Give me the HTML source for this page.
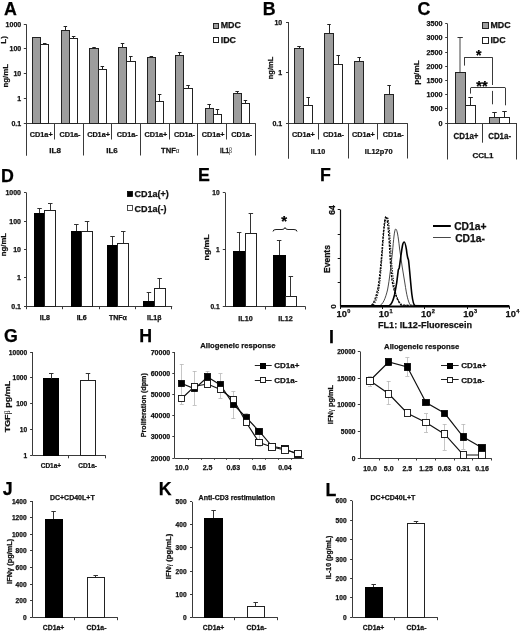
<!DOCTYPE html>
<html><head><meta charset="utf-8"><title>Figure</title>
<style>
html,body{margin:0;padding:0;background:#fff;}
body{width:520px;height:632px;overflow:hidden;font-family:"Liberation Sans",sans-serif;}
svg{display:block;filter:grayscale(1);}
</style></head>
<body>
<svg width="520" height="632" viewBox="0 0 520 632" shape-rendering="geometricPrecision">
<rect width="520" height="632" fill="#fff"/>
<text x="3.97" y="15.4" font-family="Liberation Sans" font-size="17.8" font-weight="bold" text-anchor="start" fill="#000" stroke="#000" stroke-width="0.25">A</text>
<line x1="26.5" y1="24.2" x2="26.5" y2="155.5" stroke="#3a3a3a" stroke-width="1"/>
<line x1="26" y1="123.5" x2="255.5" y2="123.5" stroke="#3a3a3a" stroke-width="1"/>
<line x1="23.8" y1="24.5" x2="26" y2="24.5" stroke="#3a3a3a" stroke-width="1"/>
<text x="21.2" y="26.7" font-family="Liberation Sans" font-size="7" font-weight="bold" text-anchor="end" fill="#111" stroke="#111" stroke-width="0.25">1000</text>
<line x1="23.8" y1="48.5" x2="26" y2="48.5" stroke="#3a3a3a" stroke-width="1"/>
<text x="21.2" y="51.45" font-family="Liberation Sans" font-size="7" font-weight="bold" text-anchor="end" fill="#111" stroke="#111" stroke-width="0.25">100</text>
<line x1="23.8" y1="73.5" x2="26" y2="73.5" stroke="#3a3a3a" stroke-width="1"/>
<text x="21.2" y="76.2" font-family="Liberation Sans" font-size="7" font-weight="bold" text-anchor="end" fill="#111" stroke="#111" stroke-width="0.25">10</text>
<line x1="23.8" y1="98.5" x2="26" y2="98.5" stroke="#3a3a3a" stroke-width="1"/>
<text x="21.2" y="100.95" font-family="Liberation Sans" font-size="7" font-weight="bold" text-anchor="end" fill="#111" stroke="#111" stroke-width="0.25">1</text>
<line x1="23.8" y1="123.5" x2="26" y2="123.5" stroke="#3a3a3a" stroke-width="1"/>
<text x="21.2" y="125.7" font-family="Liberation Sans" font-size="7" font-weight="bold" text-anchor="end" fill="#111" stroke="#111" stroke-width="0.25">0.1</text>
<text x="7.9" y="75.8" font-family="Liberation Sans" font-size="8" font-weight="bold" text-anchor="middle" fill="#111" stroke="#111" stroke-width="0.25" transform="rotate(-90 7.9 75.8)" textLength="23.6" lengthAdjust="spacingAndGlyphs">ng/mL</text>
<text x="5.6" y="39.9" font-family="Liberation Sans" font-size="8" font-weight="bold" text-anchor="middle" fill="#111" stroke="#111" stroke-width="0.25" transform="rotate(-90 5.6 39.9)">L)</text>
<line x1="36.5" y1="37.5" x2="36.5" y2="37" stroke="#222" stroke-width="1"/>
<line x1="34.7" y1="37.5" x2="38.2" y2="37.5" stroke="#222" stroke-width="1"/>
<line x1="44.5" y1="44.5" x2="44.5" y2="43" stroke="#222" stroke-width="1"/>
<line x1="43" y1="43.5" x2="46.5" y2="43.5" stroke="#222" stroke-width="1"/>
<rect x="32.5" y="37.5" width="8" height="86" fill="#9d9d9d" stroke="#222" stroke-width="1"/>
<rect x="40.5" y="44.5" width="8" height="79" fill="#fff" stroke="#222" stroke-width="1"/>
<line x1="65.5" y1="30.5" x2="65.5" y2="26.7" stroke="#222" stroke-width="1"/>
<line x1="63.6" y1="26.5" x2="67.1" y2="26.5" stroke="#222" stroke-width="1"/>
<line x1="73.5" y1="38.7" x2="73.5" y2="36.7" stroke="#222" stroke-width="1"/>
<line x1="71.9" y1="36.5" x2="75.4" y2="36.5" stroke="#222" stroke-width="1"/>
<rect x="61.5" y="30.5" width="8" height="93" fill="#9d9d9d" stroke="#222" stroke-width="1"/>
<rect x="69.5" y="38.5" width="8" height="85" fill="#fff" stroke="#222" stroke-width="1"/>
<line x1="94.5" y1="48.2" x2="94.5" y2="47.8" stroke="#222" stroke-width="1"/>
<line x1="92.3" y1="47.5" x2="95.8" y2="47.5" stroke="#222" stroke-width="1"/>
<line x1="102.5" y1="69.2" x2="102.5" y2="66" stroke="#222" stroke-width="1"/>
<line x1="100.6" y1="66.5" x2="104.1" y2="66.5" stroke="#222" stroke-width="1"/>
<rect x="89.5" y="48.5" width="9" height="75" fill="#9d9d9d" stroke="#222" stroke-width="1"/>
<rect x="98.5" y="69.5" width="8" height="54" fill="#fff" stroke="#222" stroke-width="1"/>
<line x1="122.5" y1="47.8" x2="122.5" y2="43.5" stroke="#222" stroke-width="1"/>
<line x1="120.8" y1="43.5" x2="124.3" y2="43.5" stroke="#222" stroke-width="1"/>
<line x1="130.5" y1="61.7" x2="130.5" y2="56.8" stroke="#222" stroke-width="1"/>
<line x1="129.1" y1="56.5" x2="132.6" y2="56.5" stroke="#222" stroke-width="1"/>
<rect x="118.5" y="47.5" width="8" height="76" fill="#9d9d9d" stroke="#222" stroke-width="1"/>
<rect x="126.5" y="61.5" width="9" height="62" fill="#fff" stroke="#222" stroke-width="1"/>
<line x1="151.5" y1="57.2" x2="151.5" y2="56.8" stroke="#222" stroke-width="1"/>
<line x1="149.6" y1="56.5" x2="153.1" y2="56.5" stroke="#222" stroke-width="1"/>
<line x1="159.5" y1="101" x2="159.5" y2="94.9" stroke="#222" stroke-width="1"/>
<line x1="157.9" y1="94.5" x2="161.4" y2="94.5" stroke="#222" stroke-width="1"/>
<rect x="147.5" y="57.5" width="8" height="66" fill="#9d9d9d" stroke="#222" stroke-width="1"/>
<rect x="155.5" y="101.5" width="8" height="22" fill="#fff" stroke="#222" stroke-width="1"/>
<line x1="179.5" y1="55.1" x2="179.5" y2="52.8" stroke="#222" stroke-width="1"/>
<line x1="178" y1="52.5" x2="181.5" y2="52.5" stroke="#222" stroke-width="1"/>
<line x1="188.5" y1="88.8" x2="188.5" y2="85.7" stroke="#222" stroke-width="1"/>
<line x1="186.3" y1="85.5" x2="189.8" y2="85.5" stroke="#222" stroke-width="1"/>
<rect x="175.5" y="55.5" width="8" height="68" fill="#9d9d9d" stroke="#222" stroke-width="1"/>
<rect x="183.5" y="88.5" width="9" height="35" fill="#fff" stroke="#222" stroke-width="1"/>
<line x1="209.5" y1="108.25" x2="209.5" y2="104.25" stroke="#222" stroke-width="1"/>
<line x1="207.4" y1="104.5" x2="210.9" y2="104.5" stroke="#222" stroke-width="1"/>
<line x1="217.5" y1="114.5" x2="217.5" y2="109.25" stroke="#222" stroke-width="1"/>
<line x1="215.7" y1="109.5" x2="219.2" y2="109.5" stroke="#222" stroke-width="1"/>
<rect x="205.5" y="108.5" width="8" height="15" fill="#9d9d9d" stroke="#222" stroke-width="1"/>
<rect x="213.5" y="114.5" width="8" height="9" fill="#fff" stroke="#222" stroke-width="1"/>
<line x1="237.5" y1="93.75" x2="237.5" y2="91.75" stroke="#222" stroke-width="1"/>
<line x1="235.4" y1="91.5" x2="238.9" y2="91.5" stroke="#222" stroke-width="1"/>
<line x1="245.5" y1="103.5" x2="245.5" y2="100.75" stroke="#222" stroke-width="1"/>
<line x1="243.7" y1="100.5" x2="247.2" y2="100.5" stroke="#222" stroke-width="1"/>
<rect x="233.5" y="93.5" width="8" height="30" fill="#9d9d9d" stroke="#222" stroke-width="1"/>
<rect x="241.5" y="103.5" width="8" height="20" fill="#fff" stroke="#222" stroke-width="1"/>
<line x1="26.5" y1="123.2" x2="26.5" y2="155.5" stroke="#3a3a3a" stroke-width="1"/>
<line x1="54.5" y1="123.2" x2="54.5" y2="139.5" stroke="#3a3a3a" stroke-width="1"/>
<line x1="83.5" y1="123.2" x2="83.5" y2="155.5" stroke="#3a3a3a" stroke-width="1"/>
<line x1="111.5" y1="123.2" x2="111.5" y2="139.5" stroke="#3a3a3a" stroke-width="1"/>
<line x1="140.5" y1="123.2" x2="140.5" y2="155.5" stroke="#3a3a3a" stroke-width="1"/>
<line x1="169.5" y1="123.2" x2="169.5" y2="139.5" stroke="#3a3a3a" stroke-width="1"/>
<line x1="197.5" y1="123.2" x2="197.5" y2="155.5" stroke="#3a3a3a" stroke-width="1"/>
<line x1="226.5" y1="123.2" x2="226.5" y2="139.5" stroke="#3a3a3a" stroke-width="1"/>
<line x1="255.5" y1="123.2" x2="255.5" y2="155.5" stroke="#3a3a3a" stroke-width="1"/>
<text x="0" y="0" font-family="Liberation Sans" font-size="8" font-weight="bold" text-anchor="middle" fill="#111" stroke="#111" stroke-width="0.25" transform="translate(41.23 137.2) scale(0.91 1)">CD1a+</text>
<text x="0" y="0" font-family="Liberation Sans" font-size="8" font-weight="bold" text-anchor="middle" fill="#111" stroke="#111" stroke-width="0.25" transform="translate(69.88 137.2) scale(0.91 1)">CD1a-</text>
<text x="0" y="0" font-family="Liberation Sans" font-size="8" font-weight="bold" text-anchor="middle" fill="#111" stroke="#111" stroke-width="0.25" transform="translate(98.53 137.2) scale(0.91 1)">CD1a+</text>
<text x="0" y="0" font-family="Liberation Sans" font-size="8" font-weight="bold" text-anchor="middle" fill="#111" stroke="#111" stroke-width="0.25" transform="translate(127.17 137.2) scale(0.91 1)">CD1a-</text>
<text x="0" y="0" font-family="Liberation Sans" font-size="8" font-weight="bold" text-anchor="middle" fill="#111" stroke="#111" stroke-width="0.25" transform="translate(155.82 137.2) scale(0.91 1)">CD1a+</text>
<text x="0" y="0" font-family="Liberation Sans" font-size="8" font-weight="bold" text-anchor="middle" fill="#111" stroke="#111" stroke-width="0.25" transform="translate(184.47 137.2) scale(0.91 1)">CD1a-</text>
<text x="0" y="0" font-family="Liberation Sans" font-size="8" font-weight="bold" text-anchor="middle" fill="#111" stroke="#111" stroke-width="0.25" transform="translate(213.12 137.2) scale(0.91 1)">CD1a+</text>
<text x="0" y="0" font-family="Liberation Sans" font-size="8" font-weight="bold" text-anchor="middle" fill="#111" stroke="#111" stroke-width="0.25" transform="translate(241.78 137.2) scale(0.91 1)">CD1a-</text>
<text x="0" y="0" font-family="Liberation Sans" font-size="8" font-weight="bold" text-anchor="middle" fill="#111" stroke="#111" stroke-width="0.25" transform="translate(55.15 152.5) scale(1 1)">IL8</text>
<text x="0" y="0" font-family="Liberation Sans" font-size="8" font-weight="bold" text-anchor="middle" fill="#111" stroke="#111" stroke-width="0.25" transform="translate(111.95 152.5) scale(1 1)">IL6</text>
<text x="0" y="0" font-family="Liberation Sans" font-size="8" font-weight="bold" text-anchor="middle" fill="#111" stroke="#111" stroke-width="0.25" transform="translate(170.25 152.5) scale(0.95 1)">TNF<tspan font-family="Liberation Serif" font-weight="normal" stroke-width="0" font-size="7.2">α</tspan></text>
<text x="0" y="0" font-family="Liberation Sans" font-size="8" font-weight="bold" text-anchor="middle" fill="#111" stroke="#111" stroke-width="0.25" transform="translate(225.95 152.5) scale(0.8 1)">IL1<tspan font-family="Liberation Serif" font-weight="normal" stroke-width="0" font-size="7.2">β</tspan></text>
<rect x="213.5" y="23.5" width="5" height="5" fill="#9d9d9d" stroke="#222" stroke-width="1"/>
<text x="220.7" y="28.3" font-family="Liberation Sans" font-size="8.9" font-weight="bold" text-anchor="start" fill="#111" stroke="#111" stroke-width="0.25">MDC</text>
<rect x="213.5" y="37.5" width="5" height="5" fill="#fff" stroke="#222" stroke-width="1"/>
<text x="220.7" y="43.1" font-family="Liberation Sans" font-size="8.9" font-weight="bold" text-anchor="start" fill="#111" stroke="#111" stroke-width="0.25">IDC</text>
<text x="262.85" y="14.7" font-family="Liberation Sans" font-size="17.8" font-weight="bold" text-anchor="start" fill="#000" stroke="#000" stroke-width="0.25">B</text>
<line x1="288.5" y1="22" x2="288.5" y2="158.5" stroke="#3a3a3a" stroke-width="1"/>
<line x1="288.2" y1="123.5" x2="407.7" y2="123.5" stroke="#3a3a3a" stroke-width="1"/>
<line x1="286" y1="22.5" x2="288.2" y2="22.5" stroke="#3a3a3a" stroke-width="1"/>
<text x="282.2" y="24.5" font-family="Liberation Sans" font-size="7" font-weight="bold" text-anchor="end" fill="#111" stroke="#111" stroke-width="0.25">10</text>
<line x1="286" y1="72.5" x2="288.2" y2="72.5" stroke="#3a3a3a" stroke-width="1"/>
<text x="282.2" y="75.1" font-family="Liberation Sans" font-size="7" font-weight="bold" text-anchor="end" fill="#111" stroke="#111" stroke-width="0.25">1</text>
<line x1="286" y1="123.5" x2="288.2" y2="123.5" stroke="#3a3a3a" stroke-width="1"/>
<text x="282.2" y="125.7" font-family="Liberation Sans" font-size="7" font-weight="bold" text-anchor="end" fill="#111" stroke="#111" stroke-width="0.25">0.1</text>
<text x="272.8" y="68" font-family="Liberation Sans" font-size="7.5" font-weight="bold" text-anchor="middle" fill="#111" stroke="#111" stroke-width="0.25" transform="rotate(-90 272.8 68)">ng/mL</text>
<line x1="299.5" y1="48.25" x2="299.5" y2="46.25" stroke="#222" stroke-width="1"/>
<line x1="297.25" y1="46.5" x2="300.75" y2="46.5" stroke="#222" stroke-width="1"/>
<line x1="308.5" y1="105.75" x2="308.5" y2="97.5" stroke="#222" stroke-width="1"/>
<line x1="306.45" y1="97.5" x2="309.95" y2="97.5" stroke="#222" stroke-width="1"/>
<rect x="294.5" y="48.5" width="9" height="75" fill="#9d9d9d" stroke="#222" stroke-width="1"/>
<rect x="303.5" y="105.5" width="9" height="18" fill="#fff" stroke="#222" stroke-width="1"/>
<line x1="329.5" y1="33" x2="329.5" y2="24.25" stroke="#222" stroke-width="1"/>
<line x1="327.25" y1="24.5" x2="330.75" y2="24.5" stroke="#222" stroke-width="1"/>
<line x1="338.5" y1="64.25" x2="338.5" y2="55.5" stroke="#222" stroke-width="1"/>
<line x1="336.45" y1="55.5" x2="339.95" y2="55.5" stroke="#222" stroke-width="1"/>
<rect x="324.5" y="33.5" width="9" height="90" fill="#9d9d9d" stroke="#222" stroke-width="1"/>
<rect x="333.5" y="64.5" width="9" height="59" fill="#fff" stroke="#222" stroke-width="1"/>
<line x1="359.5" y1="61.25" x2="359.5" y2="57.5" stroke="#222" stroke-width="1"/>
<line x1="357.45" y1="57.5" x2="360.95" y2="57.5" stroke="#222" stroke-width="1"/>
<rect x="354.5" y="61.5" width="9" height="62" fill="#9d9d9d" stroke="#222" stroke-width="1"/>
<line x1="389.5" y1="94.2" x2="389.5" y2="85.4" stroke="#222" stroke-width="1"/>
<line x1="387.35" y1="85.5" x2="390.85" y2="85.5" stroke="#222" stroke-width="1"/>
<rect x="384.5" y="94.5" width="9" height="29" fill="#9d9d9d" stroke="#222" stroke-width="1"/>
<line x1="288.5" y1="123.25" x2="288.5" y2="158.5" stroke="#3a3a3a" stroke-width="1"/>
<line x1="318.5" y1="123.25" x2="318.5" y2="139.5" stroke="#3a3a3a" stroke-width="1"/>
<line x1="348.5" y1="123.25" x2="348.5" y2="158.5" stroke="#3a3a3a" stroke-width="1"/>
<line x1="377.5" y1="123.25" x2="377.5" y2="139.5" stroke="#3a3a3a" stroke-width="1"/>
<line x1="407.5" y1="123.25" x2="407.5" y2="158.5" stroke="#3a3a3a" stroke-width="1"/>
<text x="0" y="0" font-family="Liberation Sans" font-size="8" font-weight="bold" text-anchor="middle" fill="#111" stroke="#111" stroke-width="0.25" transform="translate(303.46 137.2) scale(0.91 1)">CD1a+</text>
<text x="0" y="0" font-family="Liberation Sans" font-size="8" font-weight="bold" text-anchor="middle" fill="#111" stroke="#111" stroke-width="0.25" transform="translate(333.39 137.2) scale(0.91 1)">CD1a-</text>
<text x="0" y="0" font-family="Liberation Sans" font-size="8" font-weight="bold" text-anchor="middle" fill="#111" stroke="#111" stroke-width="0.25" transform="translate(363.31 137.2) scale(0.91 1)">CD1a+</text>
<text x="0" y="0" font-family="Liberation Sans" font-size="8" font-weight="bold" text-anchor="middle" fill="#111" stroke="#111" stroke-width="0.25" transform="translate(393.24 137.2) scale(0.91 1)">CD1a-</text>
<text x="0" y="0" font-family="Liberation Sans" font-size="8" font-weight="bold" text-anchor="middle" fill="#111" stroke="#111" stroke-width="0.25" transform="translate(317.93 154.3) scale(0.9 1)">IL10</text>
<text x="0" y="0" font-family="Liberation Sans" font-size="8" font-weight="bold" text-anchor="middle" fill="#111" stroke="#111" stroke-width="0.25" transform="translate(378.67 154.3) scale(0.93 1)">IL12p70</text>
<text x="417.5" y="15.4" font-family="Liberation Sans" font-size="17.8" font-weight="bold" text-anchor="start" fill="#000" stroke="#000" stroke-width="0.25">C</text>
<line x1="447.5" y1="23.6" x2="447.5" y2="159.5" stroke="#3a3a3a" stroke-width="1"/>
<line x1="447.4" y1="123.5" x2="517" y2="123.5" stroke="#3a3a3a" stroke-width="1"/>
<line x1="445.2" y1="123.5" x2="447.4" y2="123.5" stroke="#3a3a3a" stroke-width="1"/>
<text x="442.5" y="125.6" font-family="Liberation Sans" font-size="7.2" font-weight="bold" text-anchor="end" fill="#111" stroke="#111" stroke-width="0.25">0</text>
<line x1="445.2" y1="108.5" x2="447.4" y2="108.5" stroke="#3a3a3a" stroke-width="1"/>
<text x="442.5" y="111.4" font-family="Liberation Sans" font-size="7.2" font-weight="bold" text-anchor="end" fill="#111" stroke="#111" stroke-width="0.25">500</text>
<line x1="445.2" y1="94.5" x2="447.4" y2="94.5" stroke="#3a3a3a" stroke-width="1"/>
<text x="442.5" y="97.2" font-family="Liberation Sans" font-size="7.2" font-weight="bold" text-anchor="end" fill="#111" stroke="#111" stroke-width="0.25">1000</text>
<line x1="445.2" y1="80.5" x2="447.4" y2="80.5" stroke="#3a3a3a" stroke-width="1"/>
<text x="442.5" y="83" font-family="Liberation Sans" font-size="7.2" font-weight="bold" text-anchor="end" fill="#111" stroke="#111" stroke-width="0.25">1500</text>
<line x1="445.2" y1="66.5" x2="447.4" y2="66.5" stroke="#3a3a3a" stroke-width="1"/>
<text x="442.5" y="68.8" font-family="Liberation Sans" font-size="7.2" font-weight="bold" text-anchor="end" fill="#111" stroke="#111" stroke-width="0.25">2000</text>
<line x1="445.2" y1="52.5" x2="447.4" y2="52.5" stroke="#3a3a3a" stroke-width="1"/>
<text x="442.5" y="54.6" font-family="Liberation Sans" font-size="7.2" font-weight="bold" text-anchor="end" fill="#111" stroke="#111" stroke-width="0.25">2500</text>
<line x1="445.2" y1="37.5" x2="447.4" y2="37.5" stroke="#3a3a3a" stroke-width="1"/>
<text x="442.5" y="40.4" font-family="Liberation Sans" font-size="7.2" font-weight="bold" text-anchor="end" fill="#111" stroke="#111" stroke-width="0.25">3000</text>
<line x1="445.2" y1="23.5" x2="447.4" y2="23.5" stroke="#3a3a3a" stroke-width="1"/>
<text x="442.5" y="26.2" font-family="Liberation Sans" font-size="7.2" font-weight="bold" text-anchor="end" fill="#111" stroke="#111" stroke-width="0.25">3500</text>
<text x="418.6" y="72.6" font-family="Liberation Sans" font-size="8" font-weight="bold" text-anchor="middle" fill="#111" stroke="#111" stroke-width="0.25" transform="rotate(-90 418.6 72.6)" textLength="24.5" lengthAdjust="spacingAndGlyphs">pg/mL</text>
<line x1="460" y1="37.3" x2="460" y2="72" stroke="#8a8a8a" stroke-width="1.6"/>
<line x1="457.5" y1="37.5" x2="462.8" y2="37.5" stroke="#333" stroke-width="1"/>
<rect x="455.5" y="72.5" width="10" height="51" fill="#9d9d9d" stroke="#222" stroke-width="1"/>
<line x1="470.5" y1="105.8" x2="470.5" y2="97.6" stroke="#222" stroke-width="1"/>
<line x1="468.35" y1="97.5" x2="472.85" y2="97.5" stroke="#222" stroke-width="1"/>
<rect x="465.5" y="105.5" width="10" height="18" fill="#fff" stroke="#222" stroke-width="1"/>
<line x1="494.5" y1="117.5" x2="494.5" y2="112.7" stroke="#222" stroke-width="1"/>
<line x1="492.25" y1="112.5" x2="496.75" y2="112.5" stroke="#222" stroke-width="1"/>
<rect x="489.5" y="117.5" width="10" height="6" fill="#9d9d9d" stroke="#222" stroke-width="1"/>
<line x1="504.5" y1="117" x2="504.5" y2="111.6" stroke="#222" stroke-width="1"/>
<line x1="502.25" y1="111.5" x2="506.75" y2="111.5" stroke="#222" stroke-width="1"/>
<rect x="499.5" y="117.5" width="10" height="6" fill="#fff" stroke="#222" stroke-width="1"/>
<line x1="482.5" y1="123" x2="482.5" y2="142.7" stroke="#3a3a3a" stroke-width="1"/>
<line x1="516.5" y1="123" x2="516.5" y2="159.5" stroke="#3a3a3a" stroke-width="1"/>
<text x="0" y="0" font-family="Liberation Sans" font-size="8.6" font-weight="bold" text-anchor="middle" fill="#111" stroke="#111" stroke-width="0.25" transform="translate(466 139.2) scale(0.92 1)">CD1a+</text>
<text x="0" y="0" font-family="Liberation Sans" font-size="8.6" font-weight="bold" text-anchor="middle" fill="#111" stroke="#111" stroke-width="0.25" transform="translate(499.6 139.2) scale(0.92 1)">CD1a-</text>
<text x="483" y="157.7" font-family="Liberation Sans" font-size="8" font-weight="bold" text-anchor="middle" fill="#111" stroke="#111" stroke-width="0.25">CCL1</text>
<line x1="464.1" y1="57.5" x2="492.8" y2="57.5" stroke="#3a3a3a" stroke-width="1"/>
<line x1="464.5" y1="57.8" x2="464.5" y2="65.6" stroke="#3a3a3a" stroke-width="1"/>
<line x1="492.5" y1="57.8" x2="492.5" y2="85" stroke="#3a3a3a" stroke-width="1"/>
<line x1="492.5" y1="90.9" x2="492.5" y2="104.3" stroke="#3a3a3a" stroke-width="1"/>
<text x="475.9" y="60.4" font-family="Liberation Sans" font-size="14" font-weight="bold" text-anchor="start" fill="#000" stroke="#000" stroke-width="0.25">*</text>
<line x1="470.9" y1="87.5" x2="505.2" y2="87.5" stroke="#3a3a3a" stroke-width="1"/>
<line x1="470.5" y1="87.8" x2="470.5" y2="93.6" stroke="#3a3a3a" stroke-width="1"/>
<line x1="505.5" y1="87.8" x2="505.5" y2="105.3" stroke="#3a3a3a" stroke-width="1"/>
<text x="476.3" y="91.3" font-family="Liberation Sans" font-size="14.5" font-weight="bold" text-anchor="start" fill="#000" stroke="#000" stroke-width="0.25">**</text>
<rect x="482.5" y="22.5" width="6" height="6" fill="#9d9d9d" stroke="#222" stroke-width="1"/>
<text x="490.4" y="28" font-family="Liberation Sans" font-size="8.9" font-weight="bold" text-anchor="start" fill="#111" stroke="#111" stroke-width="0.25">MDC</text>
<rect x="482.5" y="37.5" width="6" height="6" fill="#fff" stroke="#222" stroke-width="1"/>
<text x="490.4" y="42.6" font-family="Liberation Sans" font-size="8.9" font-weight="bold" text-anchor="start" fill="#111" stroke="#111" stroke-width="0.25">IDC</text>
<text x="1.05" y="181.5" font-family="Liberation Sans" font-size="17.8" font-weight="bold" text-anchor="start" fill="#000" stroke="#000" stroke-width="0.25">D</text>
<line x1="26.5" y1="192.5" x2="26.5" y2="306.2" stroke="#3a3a3a" stroke-width="1"/>
<line x1="26.2" y1="306.5" x2="172.2" y2="306.5" stroke="#3a3a3a" stroke-width="1"/>
<line x1="24" y1="192.5" x2="26.2" y2="192.5" stroke="#3a3a3a" stroke-width="1"/>
<text x="21" y="195.1" font-family="Liberation Sans" font-size="7.0" font-weight="bold" text-anchor="end" fill="#111" stroke="#111" stroke-width="0.25">1000</text>
<line x1="24" y1="221.5" x2="26.2" y2="221.5" stroke="#3a3a3a" stroke-width="1"/>
<text x="21" y="223.5" font-family="Liberation Sans" font-size="7.0" font-weight="bold" text-anchor="end" fill="#111" stroke="#111" stroke-width="0.25">100</text>
<line x1="24" y1="249.5" x2="26.2" y2="249.5" stroke="#3a3a3a" stroke-width="1"/>
<text x="21" y="251.9" font-family="Liberation Sans" font-size="7.0" font-weight="bold" text-anchor="end" fill="#111" stroke="#111" stroke-width="0.25">10</text>
<line x1="24" y1="277.5" x2="26.2" y2="277.5" stroke="#3a3a3a" stroke-width="1"/>
<text x="21" y="280.3" font-family="Liberation Sans" font-size="7.0" font-weight="bold" text-anchor="end" fill="#111" stroke="#111" stroke-width="0.25">1</text>
<line x1="24" y1="306.5" x2="26.2" y2="306.5" stroke="#3a3a3a" stroke-width="1"/>
<text x="21" y="308.7" font-family="Liberation Sans" font-size="7.0" font-weight="bold" text-anchor="end" fill="#111" stroke="#111" stroke-width="0.25">0.1</text>
<line x1="26.5" y1="306.2" x2="26.5" y2="309.2" stroke="#3a3a3a" stroke-width="1"/>
<line x1="62.5" y1="306.2" x2="62.5" y2="309.2" stroke="#3a3a3a" stroke-width="1"/>
<line x1="99.5" y1="306.2" x2="99.5" y2="309.2" stroke="#3a3a3a" stroke-width="1"/>
<line x1="135.5" y1="306.2" x2="135.5" y2="309.2" stroke="#3a3a3a" stroke-width="1"/>
<line x1="171.5" y1="306.2" x2="171.5" y2="309.2" stroke="#3a3a3a" stroke-width="1"/>
<text x="6" y="244.6" font-family="Liberation Sans" font-size="8" font-weight="bold" text-anchor="middle" fill="#111" stroke="#111" stroke-width="0.25" transform="rotate(-90 6 244.6)" textLength="23.2" lengthAdjust="spacingAndGlyphs">ng/mL</text>
<line x1="39.5" y1="213" x2="39.5" y2="208" stroke="#333" stroke-width="1"/>
<line x1="37.3" y1="208.5" x2="41.8" y2="208.5" stroke="#333" stroke-width="1"/>
<line x1="50.5" y1="210.5" x2="50.5" y2="203.75" stroke="#333" stroke-width="1"/>
<line x1="48" y1="203.5" x2="52.5" y2="203.5" stroke="#333" stroke-width="1"/>
<rect x="34.5" y="213.5" width="10" height="93" fill="#000" stroke="#000" stroke-width="1"/>
<rect x="44.5" y="210.5" width="11" height="96" fill="#fff" stroke="#222" stroke-width="1"/>
<line x1="76.5" y1="231.25" x2="76.5" y2="224.25" stroke="#333" stroke-width="1"/>
<line x1="74.1" y1="224.5" x2="78.6" y2="224.5" stroke="#333" stroke-width="1"/>
<line x1="87.5" y1="231.5" x2="87.5" y2="221.25" stroke="#333" stroke-width="1"/>
<line x1="84.8" y1="221.5" x2="89.3" y2="221.5" stroke="#333" stroke-width="1"/>
<rect x="71.5" y="231.5" width="10" height="75" fill="#000" stroke="#000" stroke-width="1"/>
<rect x="81.5" y="231.5" width="11" height="75" fill="#fff" stroke="#222" stroke-width="1"/>
<line x1="112.5" y1="245.5" x2="112.5" y2="236.75" stroke="#333" stroke-width="1"/>
<line x1="110.3" y1="236.5" x2="114.8" y2="236.5" stroke="#333" stroke-width="1"/>
<line x1="123.5" y1="243.75" x2="123.5" y2="231.25" stroke="#333" stroke-width="1"/>
<line x1="121" y1="231.5" x2="125.5" y2="231.5" stroke="#333" stroke-width="1"/>
<rect x="107.5" y="245.5" width="10" height="61" fill="#000" stroke="#000" stroke-width="1"/>
<rect x="117.5" y="243.5" width="11" height="63" fill="#fff" stroke="#222" stroke-width="1"/>
<line x1="148.5" y1="301.4" x2="148.5" y2="292" stroke="#333" stroke-width="1"/>
<line x1="146.7" y1="292.5" x2="151.2" y2="292.5" stroke="#333" stroke-width="1"/>
<line x1="159.5" y1="288" x2="159.5" y2="278" stroke="#333" stroke-width="1"/>
<line x1="157.4" y1="278.5" x2="161.9" y2="278.5" stroke="#333" stroke-width="1"/>
<rect x="143.5" y="301.5" width="11" height="5" fill="#000" stroke="#000" stroke-width="1"/>
<rect x="154.5" y="288.5" width="11" height="18" fill="#fff" stroke="#222" stroke-width="1"/>
<text x="44.9" y="320" font-family="Liberation Sans" font-size="7" font-weight="bold" text-anchor="middle" fill="#111" stroke="#111" stroke-width="0.25">IL8</text>
<text x="81.7" y="320" font-family="Liberation Sans" font-size="7" font-weight="bold" text-anchor="middle" fill="#111" stroke="#111" stroke-width="0.25">IL6</text>
<text x="117.9" y="320" font-family="Liberation Sans" font-size="7" font-weight="bold" text-anchor="middle" fill="#111" stroke="#111" stroke-width="0.25">TNFα</text>
<text x="154.3" y="320" font-family="Liberation Sans" font-size="7" font-weight="bold" text-anchor="middle" fill="#111" stroke="#111" stroke-width="0.25">IL1β</text>
<rect x="127.5" y="191.5" width="5" height="5" fill="#000" stroke="#000" stroke-width="0.8"/>
<text x="134.4" y="197.4" font-family="Liberation Sans" font-size="9" font-weight="bold" text-anchor="start" fill="#111" stroke="#111" stroke-width="0.25">CD1a(+)</text>
<rect x="127.5" y="205.5" width="5" height="5" fill="#fff" stroke="#222" stroke-width="0.8"/>
<text x="134.4" y="211.8" font-family="Liberation Sans" font-size="9" font-weight="bold" text-anchor="start" fill="#111" stroke="#111" stroke-width="0.25">CD1a(-)</text>
<text x="198.1" y="180.6" font-family="Liberation Sans" font-size="17.8" font-weight="bold" text-anchor="start" fill="#000" stroke="#000" stroke-width="0.25">E</text>
<line x1="225.5" y1="192.5" x2="225.5" y2="306.5" stroke="#3a3a3a" stroke-width="1"/>
<line x1="225" y1="306.5" x2="305.5" y2="306.5" stroke="#3a3a3a" stroke-width="1"/>
<line x1="222.8" y1="192.5" x2="225" y2="192.5" stroke="#3a3a3a" stroke-width="1"/>
<text x="219.6" y="195" font-family="Liberation Sans" font-size="6.6" font-weight="bold" text-anchor="end" fill="#111" stroke="#111" stroke-width="0.25">10</text>
<line x1="222.8" y1="249.5" x2="225" y2="249.5" stroke="#3a3a3a" stroke-width="1"/>
<text x="219.6" y="252" font-family="Liberation Sans" font-size="6.6" font-weight="bold" text-anchor="end" fill="#111" stroke="#111" stroke-width="0.25">1</text>
<line x1="222.8" y1="306.5" x2="225" y2="306.5" stroke="#3a3a3a" stroke-width="1"/>
<text x="219.6" y="309" font-family="Liberation Sans" font-size="6.6" font-weight="bold" text-anchor="end" fill="#111" stroke="#111" stroke-width="0.25">0.1</text>
<line x1="265.5" y1="306.5" x2="265.5" y2="309.5" stroke="#3a3a3a" stroke-width="1"/>
<line x1="305.5" y1="306.5" x2="305.5" y2="309.5" stroke="#3a3a3a" stroke-width="1"/>
<text x="209.4" y="247.4" font-family="Liberation Sans" font-size="7.4" font-weight="bold" text-anchor="middle" fill="#111" stroke="#111" stroke-width="0.25" transform="rotate(-90 209.4 247.4)" textLength="26" lengthAdjust="spacingAndGlyphs">ng/mL</text>
<line x1="239.5" y1="251.25" x2="239.5" y2="232" stroke="#333" stroke-width="1"/>
<line x1="236.9" y1="232.5" x2="241.4" y2="232.5" stroke="#333" stroke-width="1"/>
<line x1="250.5" y1="233.25" x2="250.5" y2="213.25" stroke="#333" stroke-width="1"/>
<line x1="248.6" y1="213.5" x2="253.1" y2="213.5" stroke="#333" stroke-width="1"/>
<rect x="233.5" y="251.5" width="12" height="55" fill="#000" stroke="#000" stroke-width="1"/>
<rect x="245.5" y="233.5" width="11" height="73" fill="#fff" stroke="#222" stroke-width="1"/>
<line x1="279.5" y1="255" x2="279.5" y2="240.5" stroke="#333" stroke-width="1"/>
<line x1="276.9" y1="240.5" x2="281.4" y2="240.5" stroke="#333" stroke-width="1"/>
<line x1="290.5" y1="296.25" x2="290.5" y2="276.75" stroke="#333" stroke-width="1"/>
<line x1="288.6" y1="276.5" x2="293.1" y2="276.5" stroke="#333" stroke-width="1"/>
<rect x="273.5" y="255.5" width="12" height="51" fill="#000" stroke="#000" stroke-width="1"/>
<rect x="285.5" y="296.5" width="11" height="10" fill="#fff" stroke="#222" stroke-width="1"/>
<text x="245.5" y="320.5" font-family="Liberation Sans" font-size="7.2" font-weight="bold" text-anchor="middle" fill="#111" stroke="#111" stroke-width="0.25">IL10</text>
<text x="285.5" y="320.5" font-family="Liberation Sans" font-size="7.2" font-weight="bold" text-anchor="middle" fill="#111" stroke="#111" stroke-width="0.25">IL12</text>
<path d="M273 231.5 Q273 229.5 276 229.5 L282 229.5 Q284.5 229.5 285 227.5 Q285.5 229.5 288 229.5 L294 229.5 Q297 229.5 297 231.5" fill="none" stroke="#222" stroke-width="1"/>
<text x="281.3" y="225.9" font-family="Liberation Sans" font-size="15" font-weight="bold" text-anchor="start" fill="#000" stroke="#000" stroke-width="0.25">*</text>
<text x="320" y="181.3" font-family="Liberation Sans" font-size="17.8" font-weight="bold" text-anchor="start" fill="#000" stroke="#000" stroke-width="0.25">F</text>
<line x1="340.5" y1="209.6" x2="340.5" y2="306.5" stroke="#111" stroke-width="1.2"/>
<line x1="340.2" y1="306.5" x2="509.7" y2="306.5" stroke="#000" stroke-width="2"/>
<line x1="337.7" y1="209.5" x2="340.2" y2="209.5" stroke="#111" stroke-width="1"/>
<line x1="337.7" y1="234.5" x2="340.2" y2="234.5" stroke="#111" stroke-width="1"/>
<line x1="337.7" y1="258.5" x2="340.2" y2="258.5" stroke="#111" stroke-width="1"/>
<line x1="337.7" y1="282.5" x2="340.2" y2="282.5" stroke="#111" stroke-width="1"/>
<line x1="340.5" y1="306.5" x2="340.5" y2="309" stroke="#111" stroke-width="1"/>
<text x="336.5" y="316.6" font-family="Liberation Sans" font-size="9.3" font-weight="bold" text-anchor="start" fill="#111" stroke="#111" stroke-width="0.25">10<tspan font-size="5.6" dx="0.5" dy="-3.6">0</tspan></text>
<line x1="382.5" y1="306.5" x2="382.5" y2="309" stroke="#111" stroke-width="1"/>
<text x="378.75" y="316.6" font-family="Liberation Sans" font-size="9.3" font-weight="bold" text-anchor="start" fill="#111" stroke="#111" stroke-width="0.25">10<tspan font-size="5.6" dx="0.5" dy="-3.6">1</tspan></text>
<line x1="424.5" y1="306.5" x2="424.5" y2="309" stroke="#111" stroke-width="1"/>
<text x="421" y="316.6" font-family="Liberation Sans" font-size="9.3" font-weight="bold" text-anchor="start" fill="#111" stroke="#111" stroke-width="0.25">10<tspan font-size="5.6" dx="0.5" dy="-3.6">2</tspan></text>
<line x1="467.5" y1="306.5" x2="467.5" y2="309" stroke="#111" stroke-width="1"/>
<text x="463.25" y="316.6" font-family="Liberation Sans" font-size="9.3" font-weight="bold" text-anchor="start" fill="#111" stroke="#111" stroke-width="0.25">10<tspan font-size="5.6" dx="0.5" dy="-3.6">3</tspan></text>
<line x1="509.5" y1="306.5" x2="509.5" y2="309" stroke="#111" stroke-width="1"/>
<text x="505.5" y="316.6" font-family="Liberation Sans" font-size="9.3" font-weight="bold" text-anchor="start" fill="#111" stroke="#111" stroke-width="0.25">10<tspan font-size="5.6" dx="0.5" dy="-3.6">4</tspan></text>
<text x="334.9" y="210" font-family="Liberation Sans" font-size="8.5" font-weight="bold" text-anchor="middle" fill="#111" stroke="#111" stroke-width="0.25" transform="rotate(-90 334.9 210)">64</text>
<text x="335.6" y="306.6" font-family="Liberation Sans" font-size="8" font-weight="bold" text-anchor="middle" fill="#111" stroke="#111" stroke-width="0.25" transform="rotate(-90 335.6 306.6)">0</text>
<text x="330.1" y="259" font-family="Liberation Sans" font-size="8.5" font-weight="bold" text-anchor="middle" fill="#111" stroke="#111" stroke-width="0.25" transform="rotate(-90 330.1 259)">Events</text>
<text x="425" y="328" font-family="Liberation Sans" font-size="9.1" font-weight="bold" text-anchor="middle" fill="#111" stroke="#111" stroke-width="0.25">FL1: IL12-Fluorescein</text>
<path d="M341 305.8 L370 305.8 C374 305.5 376 296 378 288 C380 275 381.5 258 382.8 240 C384 225 385 216.5 386 216.5 C387 216.5 388 225 389 238 C390 255 390.5 268 392 280 C394 292 397 300 401 305 L420 305.8" fill="none" stroke="#000" stroke-width="1.3" stroke-dasharray="2.2 1.2"/>
<path d="M341 305.8 L372 305.8 C376 304 378 294 379.5 285 C381 272 382.5 250 383.8 232 C384.8 221 386 217.5 387.3 217.5 C388.5 217.5 389.5 230 390.5 245 C391.5 262 392.5 275 394.5 288 C396.5 298 399 303 403 305.6 L420 305.8" fill="none" stroke="#111" stroke-width="1.1" stroke-dasharray="1.4 1.1"/>
<path d="M341 305.8 L379 305.8 C383 305 385.5 298 387.5 290 C389.5 280 391 265 392.5 252 C393.5 240 394.5 229 395.7 229 C397 229 398.2 236 399.5 248 C401 260 403 272 405 284 C406.5 294 408 302 410.5 305.3 L440 305.8" fill="none" stroke="#333" stroke-width="0.9"/>
<path d="M341 305.8 L389 305.8 C391.5 305 393 301 394.5 295 C396 288 397.5 278 398.3 270 L399.2 268 C400.5 260 401.5 250 402.6 245 C403.2 242.5 403.7 242 404.2 242 C405 242 405.7 245 406.5 250 C407 255 407.5 258 408.5 260 C409.5 268 410.5 282 411.8 294 C412.7 301 413.5 305 415 305.8 L509 305.8" fill="none" stroke="#000" stroke-width="1.6"/>
<line x1="433" y1="226" x2="450.8" y2="226" stroke="#000" stroke-width="2"/>
<text x="454.2" y="230.2" font-family="Liberation Sans" font-size="10.3" font-weight="bold" text-anchor="start" fill="#111" stroke="#111" stroke-width="0.25">CD1a+</text>
<line x1="433" y1="237.5" x2="450.8" y2="237.5" stroke="#333" stroke-width="0.9"/>
<text x="455.2" y="241.6" font-family="Liberation Sans" font-size="10.3" font-weight="bold" text-anchor="start" fill="#111" stroke="#111" stroke-width="0.25">CD1a-</text>
<text x="3.9" y="342.2" font-family="Liberation Sans" font-size="17.8" font-weight="bold" text-anchor="start" fill="#000" stroke="#000" stroke-width="0.25">G</text>
<line x1="32.5" y1="352" x2="32.5" y2="455.3" stroke="#3a3a3a" stroke-width="1"/>
<line x1="32.3" y1="455.5" x2="105.5" y2="455.5" stroke="#3a3a3a" stroke-width="1"/>
<line x1="30.1" y1="352.5" x2="32.3" y2="352.5" stroke="#3a3a3a" stroke-width="1"/>
<text x="27.2" y="354.6" font-family="Liberation Sans" font-size="6.6" font-weight="bold" text-anchor="end" fill="#111" stroke="#111" stroke-width="0.25">10000</text>
<line x1="30.1" y1="377.5" x2="32.3" y2="377.5" stroke="#3a3a3a" stroke-width="1"/>
<text x="27.2" y="380.4" font-family="Liberation Sans" font-size="6.6" font-weight="bold" text-anchor="end" fill="#111" stroke="#111" stroke-width="0.25">1000</text>
<line x1="30.1" y1="403.5" x2="32.3" y2="403.5" stroke="#3a3a3a" stroke-width="1"/>
<text x="27.2" y="406.2" font-family="Liberation Sans" font-size="6.6" font-weight="bold" text-anchor="end" fill="#111" stroke="#111" stroke-width="0.25">100</text>
<line x1="30.1" y1="429.5" x2="32.3" y2="429.5" stroke="#3a3a3a" stroke-width="1"/>
<text x="27.2" y="432" font-family="Liberation Sans" font-size="6.6" font-weight="bold" text-anchor="end" fill="#111" stroke="#111" stroke-width="0.25">10</text>
<line x1="30.1" y1="455.5" x2="32.3" y2="455.5" stroke="#3a3a3a" stroke-width="1"/>
<text x="27.2" y="457.8" font-family="Liberation Sans" font-size="6.6" font-weight="bold" text-anchor="end" fill="#111" stroke="#111" stroke-width="0.25">1</text>
<line x1="68.5" y1="455.3" x2="68.5" y2="458.3" stroke="#3a3a3a" stroke-width="1"/>
<line x1="105.5" y1="455.3" x2="105.5" y2="458.3" stroke="#3a3a3a" stroke-width="1"/>
<rect x="43.5" y="378.5" width="15" height="77" fill="#000" stroke="#000" stroke-width="1"/>
<line x1="51.5" y1="378.75" x2="51.5" y2="373" stroke="#333" stroke-width="1"/>
<line x1="49" y1="373.5" x2="53.5" y2="373.5" stroke="#333" stroke-width="1"/>
<line x1="88.5" y1="380.5" x2="88.5" y2="373" stroke="#333" stroke-width="1"/>
<line x1="85.75" y1="373.5" x2="90.25" y2="373.5" stroke="#333" stroke-width="1"/>
<rect x="80.5" y="380.5" width="15" height="75" fill="#fff" stroke="#222" stroke-width="1"/>
<text x="0" y="0" font-family="Liberation Sans" font-size="7.4" font-weight="bold" text-anchor="middle" fill="#111" stroke="#111" stroke-width="0.25" transform="translate(50.9 467.5) scale(0.88 1)">CD1a+</text>
<text x="0" y="0" font-family="Liberation Sans" font-size="7.4" font-weight="bold" text-anchor="middle" fill="#111" stroke="#111" stroke-width="0.25" transform="translate(87.6 467.5) scale(0.88 1)">CD1a-</text>
<text x="10.3" y="406.6" font-family="Liberation Sans" font-size="7.9" font-weight="bold" text-anchor="middle" fill="#111" stroke="#111" stroke-width="0.25" transform="rotate(-90 10.3 406.6)" textLength="51.5" lengthAdjust="spacingAndGlyphs">TGF<tspan font-family="Liberation Serif" font-weight="normal" stroke-width="0" font-size="7.2">β</tspan> pg/mL</text>
<text x="139.3" y="342.4" font-family="Liberation Sans" font-size="17.8" font-weight="bold" text-anchor="start" fill="#000" stroke="#000" stroke-width="0.25">H</text>
<line x1="174.5" y1="352" x2="174.5" y2="458" stroke="#3a3a3a" stroke-width="1"/>
<line x1="174.5" y1="458.5" x2="303.75" y2="458.5" stroke="#3a3a3a" stroke-width="1"/>
<line x1="172.3" y1="352.5" x2="174.5" y2="352.5" stroke="#3a3a3a" stroke-width="1"/>
<text x="170.2" y="354.5" font-family="Liberation Sans" font-size="7" font-weight="bold" text-anchor="end" fill="#111" stroke="#111" stroke-width="0.25">70000</text>
<line x1="172.3" y1="373.5" x2="174.5" y2="373.5" stroke="#3a3a3a" stroke-width="1"/>
<text x="170.2" y="375.7" font-family="Liberation Sans" font-size="7" font-weight="bold" text-anchor="end" fill="#111" stroke="#111" stroke-width="0.25">60000</text>
<line x1="172.3" y1="394.5" x2="174.5" y2="394.5" stroke="#3a3a3a" stroke-width="1"/>
<text x="170.2" y="396.9" font-family="Liberation Sans" font-size="7" font-weight="bold" text-anchor="end" fill="#111" stroke="#111" stroke-width="0.25">50000</text>
<line x1="172.3" y1="415.5" x2="174.5" y2="415.5" stroke="#3a3a3a" stroke-width="1"/>
<text x="170.2" y="418.1" font-family="Liberation Sans" font-size="7" font-weight="bold" text-anchor="end" fill="#111" stroke="#111" stroke-width="0.25">40000</text>
<line x1="172.3" y1="436.5" x2="174.5" y2="436.5" stroke="#3a3a3a" stroke-width="1"/>
<text x="170.2" y="439.3" font-family="Liberation Sans" font-size="7" font-weight="bold" text-anchor="end" fill="#111" stroke="#111" stroke-width="0.25">30000</text>
<line x1="172.3" y1="458.5" x2="174.5" y2="458.5" stroke="#3a3a3a" stroke-width="1"/>
<text x="170.2" y="460.5" font-family="Liberation Sans" font-size="7" font-weight="bold" text-anchor="end" fill="#111" stroke="#111" stroke-width="0.25">20000</text>
<line x1="188.5" y1="458" x2="188.5" y2="459.8" stroke="#3a3a3a" stroke-width="1"/>
<line x1="201.5" y1="458" x2="201.5" y2="459.8" stroke="#3a3a3a" stroke-width="1"/>
<line x1="214.5" y1="458" x2="214.5" y2="459.8" stroke="#3a3a3a" stroke-width="1"/>
<line x1="226.5" y1="458" x2="226.5" y2="459.8" stroke="#3a3a3a" stroke-width="1"/>
<line x1="239.5" y1="458" x2="239.5" y2="459.8" stroke="#3a3a3a" stroke-width="1"/>
<line x1="252.5" y1="458" x2="252.5" y2="459.8" stroke="#3a3a3a" stroke-width="1"/>
<line x1="265.5" y1="458" x2="265.5" y2="459.8" stroke="#3a3a3a" stroke-width="1"/>
<line x1="278.5" y1="458" x2="278.5" y2="459.8" stroke="#3a3a3a" stroke-width="1"/>
<line x1="291.5" y1="458" x2="291.5" y2="459.8" stroke="#3a3a3a" stroke-width="1"/>
<line x1="181.5" y1="364.25" x2="181.5" y2="404" stroke="#b8b8b8" stroke-width="0.8"/>
<line x1="179.75" y1="364.5" x2="183.75" y2="364.5" stroke="#b8b8b8" stroke-width="0.8"/>
<line x1="179.75" y1="404.5" x2="183.75" y2="404.5" stroke="#b8b8b8" stroke-width="0.8"/>
<line x1="194.5" y1="371" x2="194.5" y2="405" stroke="#b8b8b8" stroke-width="0.8"/>
<line x1="192.65" y1="371.5" x2="196.65" y2="371.5" stroke="#b8b8b8" stroke-width="0.8"/>
<line x1="192.65" y1="405.5" x2="196.65" y2="405.5" stroke="#b8b8b8" stroke-width="0.8"/>
<line x1="207.5" y1="371" x2="207.5" y2="387" stroke="#b8b8b8" stroke-width="0.8"/>
<line x1="205.55" y1="371.5" x2="209.55" y2="371.5" stroke="#b8b8b8" stroke-width="0.8"/>
<line x1="205.55" y1="387.5" x2="209.55" y2="387.5" stroke="#b8b8b8" stroke-width="0.8"/>
<line x1="220.5" y1="373.75" x2="220.5" y2="398" stroke="#b8b8b8" stroke-width="0.8"/>
<line x1="218.45" y1="373.5" x2="222.45" y2="373.5" stroke="#b8b8b8" stroke-width="0.8"/>
<line x1="218.45" y1="398.5" x2="222.45" y2="398.5" stroke="#b8b8b8" stroke-width="0.8"/>
<line x1="233.5" y1="391.25" x2="233.5" y2="418.75" stroke="#b8b8b8" stroke-width="0.8"/>
<line x1="231.35" y1="391.5" x2="235.35" y2="391.5" stroke="#b8b8b8" stroke-width="0.8"/>
<line x1="231.35" y1="418.5" x2="235.35" y2="418.5" stroke="#b8b8b8" stroke-width="0.8"/>
<line x1="246.5" y1="413" x2="246.5" y2="425" stroke="#b8b8b8" stroke-width="0.8"/>
<line x1="244.25" y1="413.5" x2="248.25" y2="413.5" stroke="#b8b8b8" stroke-width="0.8"/>
<line x1="244.25" y1="425.5" x2="248.25" y2="425.5" stroke="#b8b8b8" stroke-width="0.8"/>
<line x1="259.5" y1="428" x2="259.5" y2="446" stroke="#b8b8b8" stroke-width="0.8"/>
<line x1="257.15" y1="428.5" x2="261.15" y2="428.5" stroke="#b8b8b8" stroke-width="0.8"/>
<line x1="257.15" y1="446.5" x2="261.15" y2="446.5" stroke="#b8b8b8" stroke-width="0.8"/>
<line x1="272.5" y1="443" x2="272.5" y2="450" stroke="#b8b8b8" stroke-width="0.8"/>
<line x1="270.05" y1="443.5" x2="274.05" y2="443.5" stroke="#b8b8b8" stroke-width="0.8"/>
<line x1="270.05" y1="450.5" x2="274.05" y2="450.5" stroke="#b8b8b8" stroke-width="0.8"/>
<line x1="284.5" y1="446" x2="284.5" y2="452" stroke="#b8b8b8" stroke-width="0.8"/>
<line x1="282.95" y1="446.5" x2="286.95" y2="446.5" stroke="#b8b8b8" stroke-width="0.8"/>
<line x1="282.95" y1="452.5" x2="286.95" y2="452.5" stroke="#b8b8b8" stroke-width="0.8"/>
<line x1="297.5" y1="451" x2="297.5" y2="456" stroke="#b8b8b8" stroke-width="0.8"/>
<line x1="295.85" y1="451.5" x2="299.85" y2="451.5" stroke="#b8b8b8" stroke-width="0.8"/>
<line x1="295.85" y1="456.5" x2="299.85" y2="456.5" stroke="#b8b8b8" stroke-width="0.8"/>
<polyline points="181.75,383.5 194.65,388.75 207.55,377 220.45,385 233.35,404.5 246.25,417.5 259.15,431.25 272.05,446.25 284.95,448.75 297.85,454.5" fill="none" stroke="#111" stroke-width="1.15"/>
<polyline points="181.75,398.5 194.65,386.25 207.55,384 220.45,389.5 233.35,399.5 246.25,422.5 259.15,442.5 272.05,447 284.95,450 297.85,453.25" fill="none" stroke="#111" stroke-width="1.15"/>
<rect x="178.5" y="380.5" width="6" height="6" fill="#000" stroke="#000" stroke-width="0.8"/>
<rect x="191.5" y="385.5" width="6" height="6" fill="#000" stroke="#000" stroke-width="0.8"/>
<rect x="204.5" y="373.5" width="6" height="7" fill="#000" stroke="#000" stroke-width="0.8"/>
<rect x="217.5" y="381.5" width="6" height="7" fill="#000" stroke="#000" stroke-width="0.8"/>
<rect x="230.5" y="401.5" width="6" height="6" fill="#000" stroke="#000" stroke-width="0.8"/>
<rect x="243.5" y="414.5" width="6" height="6" fill="#000" stroke="#000" stroke-width="0.8"/>
<rect x="255.5" y="428.5" width="7" height="6" fill="#000" stroke="#000" stroke-width="0.8"/>
<rect x="268.5" y="443.5" width="7" height="6" fill="#000" stroke="#000" stroke-width="0.8"/>
<rect x="281.5" y="445.5" width="7" height="6" fill="#000" stroke="#000" stroke-width="0.8"/>
<rect x="294.5" y="451.5" width="7" height="6" fill="#000" stroke="#000" stroke-width="0.8"/>
<rect x="178.5" y="395.5" width="6" height="6" fill="#fff" stroke="#111" stroke-width="0.9"/>
<rect x="191.5" y="383.5" width="6" height="6" fill="#fff" stroke="#111" stroke-width="0.9"/>
<rect x="204.5" y="380.5" width="6" height="7" fill="#fff" stroke="#111" stroke-width="0.9"/>
<rect x="217.5" y="386.5" width="6" height="6" fill="#fff" stroke="#111" stroke-width="0.9"/>
<rect x="230.5" y="396.5" width="6" height="6" fill="#fff" stroke="#111" stroke-width="0.9"/>
<rect x="243.5" y="419.5" width="6" height="6" fill="#fff" stroke="#111" stroke-width="0.9"/>
<rect x="255.5" y="439.5" width="7" height="6" fill="#fff" stroke="#111" stroke-width="0.9"/>
<rect x="268.5" y="443.5" width="7" height="7" fill="#fff" stroke="#111" stroke-width="0.9"/>
<rect x="281.5" y="446.5" width="7" height="7" fill="#fff" stroke="#111" stroke-width="0.9"/>
<rect x="294.5" y="450.5" width="7" height="6" fill="#fff" stroke="#111" stroke-width="0.9"/>
<text x="237.9" y="348.3" font-family="Liberation Sans" font-size="7.7" font-weight="bold" text-anchor="middle" fill="#111" stroke="#111" stroke-width="0.25">Allogeneic response</text>
<line x1="254.8" y1="365.5" x2="271.7" y2="365.5" stroke="#222" stroke-width="1"/>
<rect x="260.5" y="363.5" width="5" height="5" fill="#000" stroke="#000" stroke-width="1"/>
<text x="274.3" y="368.4" font-family="Liberation Sans" font-size="8.0" font-weight="bold" text-anchor="start" fill="#111" stroke="#111" stroke-width="0.25">CD1a+</text>
<line x1="254.8" y1="380.5" x2="271.7" y2="380.5" stroke="#222" stroke-width="1"/>
<rect x="260.5" y="377.5" width="5" height="5" fill="#fff" stroke="#222" stroke-width="1"/>
<text x="274.3" y="382.7" font-family="Liberation Sans" font-size="8.0" font-weight="bold" text-anchor="start" fill="#111" stroke="#111" stroke-width="0.25">CD1a-</text>
<text x="145.9" y="405.2" font-family="Liberation Sans" font-size="7.5" font-weight="bold" text-anchor="middle" fill="#111" stroke="#111" stroke-width="0.25" transform="rotate(-90 145.9 405.2)" textLength="64" lengthAdjust="spacingAndGlyphs">Proliferation (dpm)</text>
<text x="181.75" y="470" font-family="Liberation Sans" font-size="7" font-weight="bold" text-anchor="middle" fill="#111" stroke="#111" stroke-width="0.25">10.0</text>
<text x="207.55" y="470" font-family="Liberation Sans" font-size="7" font-weight="bold" text-anchor="middle" fill="#111" stroke="#111" stroke-width="0.25">2.5</text>
<text x="233.35" y="470" font-family="Liberation Sans" font-size="7" font-weight="bold" text-anchor="middle" fill="#111" stroke="#111" stroke-width="0.25">0.63</text>
<text x="259.15" y="470" font-family="Liberation Sans" font-size="7" font-weight="bold" text-anchor="middle" fill="#111" stroke="#111" stroke-width="0.25">0.16</text>
<text x="284.95" y="470" font-family="Liberation Sans" font-size="7" font-weight="bold" text-anchor="middle" fill="#111" stroke="#111" stroke-width="0.25">0.04</text>
<text x="328.9" y="343.3" font-family="Liberation Sans" font-size="17.8" font-weight="bold" text-anchor="start" fill="#000" stroke="#000" stroke-width="0.25">I</text>
<line x1="360.5" y1="351.5" x2="360.5" y2="458.3" stroke="#3a3a3a" stroke-width="1"/>
<line x1="360" y1="458.5" x2="491.5" y2="458.5" stroke="#3a3a3a" stroke-width="1"/>
<line x1="357.8" y1="351.5" x2="360" y2="351.5" stroke="#3a3a3a" stroke-width="1"/>
<text x="355.5" y="354" font-family="Liberation Sans" font-size="6.6" font-weight="bold" text-anchor="end" fill="#111" stroke="#111" stroke-width="0.25">20000</text>
<line x1="357.8" y1="378.5" x2="360" y2="378.5" stroke="#3a3a3a" stroke-width="1"/>
<text x="355.5" y="380.7" font-family="Liberation Sans" font-size="6.6" font-weight="bold" text-anchor="end" fill="#111" stroke="#111" stroke-width="0.25">15000</text>
<line x1="357.8" y1="404.5" x2="360" y2="404.5" stroke="#3a3a3a" stroke-width="1"/>
<text x="355.5" y="407.4" font-family="Liberation Sans" font-size="6.6" font-weight="bold" text-anchor="end" fill="#111" stroke="#111" stroke-width="0.25">10000</text>
<line x1="357.8" y1="431.5" x2="360" y2="431.5" stroke="#3a3a3a" stroke-width="1"/>
<text x="355.5" y="434.1" font-family="Liberation Sans" font-size="6.6" font-weight="bold" text-anchor="end" fill="#111" stroke="#111" stroke-width="0.25">5000</text>
<line x1="357.8" y1="458.5" x2="360" y2="458.5" stroke="#3a3a3a" stroke-width="1"/>
<text x="355.5" y="460.8" font-family="Liberation Sans" font-size="6.6" font-weight="bold" text-anchor="end" fill="#111" stroke="#111" stroke-width="0.25">0</text>
<line x1="379.5" y1="458.3" x2="379.5" y2="460.5" stroke="#3a3a3a" stroke-width="1"/>
<line x1="398.5" y1="458.3" x2="398.5" y2="460.5" stroke="#3a3a3a" stroke-width="1"/>
<line x1="416.5" y1="458.3" x2="416.5" y2="460.5" stroke="#3a3a3a" stroke-width="1"/>
<line x1="435.5" y1="458.3" x2="435.5" y2="460.5" stroke="#3a3a3a" stroke-width="1"/>
<line x1="454.5" y1="458.3" x2="454.5" y2="460.5" stroke="#3a3a3a" stroke-width="1"/>
<line x1="472.5" y1="458.3" x2="472.5" y2="460.5" stroke="#3a3a3a" stroke-width="1"/>
<line x1="491.5" y1="458.3" x2="491.5" y2="460.5" stroke="#3a3a3a" stroke-width="1"/>
<line x1="370.5" y1="376" x2="370.5" y2="386" stroke="#b8b8b8" stroke-width="0.8"/>
<line x1="368" y1="376.5" x2="372" y2="376.5" stroke="#b8b8b8" stroke-width="0.8"/>
<line x1="368" y1="386.5" x2="372" y2="386.5" stroke="#b8b8b8" stroke-width="0.8"/>
<line x1="388.5" y1="381" x2="388.5" y2="404.5" stroke="#b8b8b8" stroke-width="0.8"/>
<line x1="386.67" y1="381.5" x2="390.67" y2="381.5" stroke="#b8b8b8" stroke-width="0.8"/>
<line x1="386.67" y1="404.5" x2="390.67" y2="404.5" stroke="#b8b8b8" stroke-width="0.8"/>
<line x1="407.5" y1="357.5" x2="407.5" y2="376" stroke="#b8b8b8" stroke-width="0.8"/>
<line x1="405.34" y1="357.5" x2="409.34" y2="357.5" stroke="#b8b8b8" stroke-width="0.8"/>
<line x1="405.34" y1="376.5" x2="409.34" y2="376.5" stroke="#b8b8b8" stroke-width="0.8"/>
<line x1="426.5" y1="413.75" x2="426.5" y2="432.5" stroke="#b8b8b8" stroke-width="0.8"/>
<line x1="424.01" y1="413.5" x2="428.01" y2="413.5" stroke="#b8b8b8" stroke-width="0.8"/>
<line x1="424.01" y1="432.5" x2="428.01" y2="432.5" stroke="#b8b8b8" stroke-width="0.8"/>
<line x1="444.5" y1="424" x2="444.5" y2="450" stroke="#b8b8b8" stroke-width="0.8"/>
<line x1="442.68" y1="424.5" x2="446.68" y2="424.5" stroke="#b8b8b8" stroke-width="0.8"/>
<line x1="442.68" y1="450.5" x2="446.68" y2="450.5" stroke="#b8b8b8" stroke-width="0.8"/>
<line x1="463.5" y1="424" x2="463.5" y2="449" stroke="#b8b8b8" stroke-width="0.8"/>
<line x1="461.35" y1="424.5" x2="465.35" y2="424.5" stroke="#b8b8b8" stroke-width="0.8"/>
<line x1="461.35" y1="449.5" x2="465.35" y2="449.5" stroke="#b8b8b8" stroke-width="0.8"/>
<line x1="482.5" y1="446" x2="482.5" y2="456" stroke="#b8b8b8" stroke-width="0.8"/>
<line x1="480.02" y1="446.5" x2="484.02" y2="446.5" stroke="#b8b8b8" stroke-width="0.8"/>
<line x1="480.02" y1="456.5" x2="484.02" y2="456.5" stroke="#b8b8b8" stroke-width="0.8"/>
<polyline points="370,380.5 388.67,362 407.34,367 426.01,402.6 444.68,413.3 463.35,437.1 482.02,447.7" fill="none" stroke="#111" stroke-width="1.15"/>
<polyline points="370,380.75 388.67,393.75 407.34,413.25 426.01,422.6 444.68,434.2 463.35,455 482.02,455" fill="none" stroke="#111" stroke-width="1.15"/>
<rect x="366.5" y="377.5" width="7" height="6" fill="#000" stroke="#000" stroke-width="0.8"/>
<rect x="385.5" y="358.5" width="6" height="7" fill="#000" stroke="#000" stroke-width="0.8"/>
<rect x="404.5" y="363.5" width="6" height="7" fill="#000" stroke="#000" stroke-width="0.8"/>
<rect x="422.5" y="399.5" width="7" height="6" fill="#000" stroke="#000" stroke-width="0.8"/>
<rect x="441.5" y="410.5" width="6" height="6" fill="#000" stroke="#000" stroke-width="0.8"/>
<rect x="460.5" y="433.5" width="6" height="7" fill="#000" stroke="#000" stroke-width="0.8"/>
<rect x="478.5" y="444.5" width="7" height="7" fill="#000" stroke="#000" stroke-width="0.8"/>
<rect x="366.5" y="377.5" width="7" height="7" fill="#fff" stroke="#111" stroke-width="0.9"/>
<rect x="385.5" y="390.5" width="6" height="7" fill="#fff" stroke="#111" stroke-width="0.9"/>
<rect x="404.5" y="409.5" width="6" height="7" fill="#fff" stroke="#111" stroke-width="0.9"/>
<rect x="422.5" y="419.5" width="7" height="6" fill="#fff" stroke="#111" stroke-width="0.9"/>
<rect x="441.5" y="430.5" width="6" height="7" fill="#fff" stroke="#111" stroke-width="0.9"/>
<rect x="460.5" y="451.5" width="6" height="7" fill="#fff" stroke="#111" stroke-width="0.9"/>
<rect x="478.5" y="451.5" width="7" height="7" fill="#fff" stroke="#111" stroke-width="0.9"/>
<text x="421.7" y="348.9" font-family="Liberation Sans" font-size="7.7" font-weight="bold" text-anchor="middle" fill="#111" stroke="#111" stroke-width="0.25">Allogeneic response</text>
<line x1="441" y1="365.5" x2="458.7" y2="365.5" stroke="#222" stroke-width="1"/>
<rect x="447.5" y="363.5" width="5" height="5" fill="#000" stroke="#000" stroke-width="1"/>
<text x="461.3" y="368.4" font-family="Liberation Sans" font-size="8.0" font-weight="bold" text-anchor="start" fill="#111" stroke="#111" stroke-width="0.25">CD1a+</text>
<line x1="441" y1="379.5" x2="458.7" y2="379.5" stroke="#222" stroke-width="1"/>
<rect x="447.5" y="377.5" width="5" height="5" fill="#fff" stroke="#222" stroke-width="1"/>
<text x="461.3" y="382.7" font-family="Liberation Sans" font-size="8.0" font-weight="bold" text-anchor="start" fill="#111" stroke="#111" stroke-width="0.25">CD1a-</text>
<text x="333.1" y="404.5" font-family="Liberation Sans" font-size="7.4" font-weight="bold" text-anchor="middle" fill="#111" stroke="#111" stroke-width="0.25" transform="rotate(-90 333.1 404.5)">IFN<tspan font-family="Liberation Serif" font-weight="normal" stroke-width="0" font-size="7.2">γ</tspan> pg/mL</text>
<text x="370" y="471.2" font-family="Liberation Sans" font-size="7" font-weight="bold" text-anchor="middle" fill="#111" stroke="#111" stroke-width="0.25">10.0</text>
<text x="388.67" y="471.2" font-family="Liberation Sans" font-size="7" font-weight="bold" text-anchor="middle" fill="#111" stroke="#111" stroke-width="0.25">5.0</text>
<text x="407.34" y="471.2" font-family="Liberation Sans" font-size="7" font-weight="bold" text-anchor="middle" fill="#111" stroke="#111" stroke-width="0.25">2.5</text>
<text x="426.01" y="471.2" font-family="Liberation Sans" font-size="7" font-weight="bold" text-anchor="middle" fill="#111" stroke="#111" stroke-width="0.25">1.25</text>
<text x="444.68" y="471.2" font-family="Liberation Sans" font-size="7" font-weight="bold" text-anchor="middle" fill="#111" stroke="#111" stroke-width="0.25">0.63</text>
<text x="463.35" y="471.2" font-family="Liberation Sans" font-size="7" font-weight="bold" text-anchor="middle" fill="#111" stroke="#111" stroke-width="0.25">0.31</text>
<text x="482.02" y="471.2" font-family="Liberation Sans" font-size="7" font-weight="bold" text-anchor="middle" fill="#111" stroke="#111" stroke-width="0.25">0.16</text>
<text x="2.85" y="494.7" font-family="Liberation Sans" font-size="17.8" font-weight="bold" text-anchor="start" fill="#000" stroke="#000" stroke-width="0.25">J</text>
<line x1="32.5" y1="501" x2="32.5" y2="617.2" stroke="#3a3a3a" stroke-width="1"/>
<line x1="32.2" y1="617.5" x2="117.5" y2="617.5" stroke="#3a3a3a" stroke-width="1"/>
<line x1="30" y1="617.5" x2="32.2" y2="617.5" stroke="#3a3a3a" stroke-width="1"/>
<text x="26.6" y="619.7" font-family="Liberation Sans" font-size="6.6" font-weight="bold" text-anchor="end" fill="#111" stroke="#111" stroke-width="0.25">0</text>
<line x1="30" y1="600.5" x2="32.2" y2="600.5" stroke="#3a3a3a" stroke-width="1"/>
<text x="26.6" y="603.1" font-family="Liberation Sans" font-size="6.6" font-weight="bold" text-anchor="end" fill="#111" stroke="#111" stroke-width="0.25">200</text>
<line x1="30" y1="584.5" x2="32.2" y2="584.5" stroke="#3a3a3a" stroke-width="1"/>
<text x="26.6" y="586.5" font-family="Liberation Sans" font-size="6.6" font-weight="bold" text-anchor="end" fill="#111" stroke="#111" stroke-width="0.25">400</text>
<line x1="30" y1="567.5" x2="32.2" y2="567.5" stroke="#3a3a3a" stroke-width="1"/>
<text x="26.6" y="569.9" font-family="Liberation Sans" font-size="6.6" font-weight="bold" text-anchor="end" fill="#111" stroke="#111" stroke-width="0.25">600</text>
<line x1="30" y1="550.5" x2="32.2" y2="550.5" stroke="#3a3a3a" stroke-width="1"/>
<text x="26.6" y="553.3" font-family="Liberation Sans" font-size="6.6" font-weight="bold" text-anchor="end" fill="#111" stroke="#111" stroke-width="0.25">800</text>
<line x1="30" y1="534.5" x2="32.2" y2="534.5" stroke="#3a3a3a" stroke-width="1"/>
<text x="26.6" y="536.7" font-family="Liberation Sans" font-size="6.6" font-weight="bold" text-anchor="end" fill="#111" stroke="#111" stroke-width="0.25">1000</text>
<line x1="30" y1="517.5" x2="32.2" y2="517.5" stroke="#3a3a3a" stroke-width="1"/>
<text x="26.6" y="520.1" font-family="Liberation Sans" font-size="6.6" font-weight="bold" text-anchor="end" fill="#111" stroke="#111" stroke-width="0.25">1200</text>
<line x1="30" y1="501.5" x2="32.2" y2="501.5" stroke="#3a3a3a" stroke-width="1"/>
<text x="26.6" y="503.5" font-family="Liberation Sans" font-size="6.6" font-weight="bold" text-anchor="end" fill="#111" stroke="#111" stroke-width="0.25">1400</text>
<line x1="74.5" y1="617.2" x2="74.5" y2="620.2" stroke="#3a3a3a" stroke-width="1"/>
<line x1="117.5" y1="617.2" x2="117.5" y2="620.2" stroke="#3a3a3a" stroke-width="1"/>
<line x1="53.5" y1="519.25" x2="53.5" y2="511.75" stroke="#333" stroke-width="1"/>
<line x1="51.35" y1="511.5" x2="55.85" y2="511.5" stroke="#333" stroke-width="1"/>
<rect x="45.5" y="519.5" width="17" height="98" fill="#000" stroke="#000" stroke-width="1"/>
<line x1="95.5" y1="577" x2="95.5" y2="575.5" stroke="#333" stroke-width="1"/>
<line x1="93.45" y1="575.5" x2="97.95" y2="575.5" stroke="#333" stroke-width="1"/>
<rect x="87.5" y="577.5" width="17" height="40" fill="#fff" stroke="#222" stroke-width="1"/>
<text x="72.3" y="500" font-family="Liberation Sans" font-size="7" font-weight="bold" text-anchor="middle" fill="#111" stroke="#111" stroke-width="0.25">DC+CD40L+T</text>
<text x="0" y="0" font-family="Liberation Sans" font-size="7.5" font-weight="bold" text-anchor="middle" fill="#111" stroke="#111" stroke-width="0.25" transform="translate(53.5 630) scale(0.92 1)">CD1a+</text>
<text x="0" y="0" font-family="Liberation Sans" font-size="7.5" font-weight="bold" text-anchor="middle" fill="#111" stroke="#111" stroke-width="0.25" transform="translate(96.5 630) scale(0.92 1)">CD1a-</text>
<text x="12" y="561.3" font-family="Liberation Sans" font-size="7.4" font-weight="bold" text-anchor="middle" fill="#111" stroke="#111" stroke-width="0.25" transform="rotate(-90 12 561.3)">IFNγ (pg/mL)</text>
<text x="158.7" y="494.7" font-family="Liberation Sans" font-size="17.8" font-weight="bold" text-anchor="start" fill="#000" stroke="#000" stroke-width="0.25">K</text>
<line x1="192.5" y1="502" x2="192.5" y2="617.2" stroke="#3a3a3a" stroke-width="1"/>
<line x1="192.2" y1="617.5" x2="277.5" y2="617.5" stroke="#3a3a3a" stroke-width="1"/>
<line x1="190" y1="617.5" x2="192.2" y2="617.5" stroke="#3a3a3a" stroke-width="1"/>
<text x="186.6" y="619.7" font-family="Liberation Sans" font-size="6.6" font-weight="bold" text-anchor="end" fill="#111" stroke="#111" stroke-width="0.25">0</text>
<line x1="190" y1="594.5" x2="192.2" y2="594.5" stroke="#3a3a3a" stroke-width="1"/>
<text x="186.6" y="596.6" font-family="Liberation Sans" font-size="6.6" font-weight="bold" text-anchor="end" fill="#111" stroke="#111" stroke-width="0.25">100</text>
<line x1="190" y1="571.5" x2="192.2" y2="571.5" stroke="#3a3a3a" stroke-width="1"/>
<text x="186.6" y="573.5" font-family="Liberation Sans" font-size="6.6" font-weight="bold" text-anchor="end" fill="#111" stroke="#111" stroke-width="0.25">200</text>
<line x1="190" y1="547.5" x2="192.2" y2="547.5" stroke="#3a3a3a" stroke-width="1"/>
<text x="186.6" y="550.4" font-family="Liberation Sans" font-size="6.6" font-weight="bold" text-anchor="end" fill="#111" stroke="#111" stroke-width="0.25">300</text>
<line x1="190" y1="524.5" x2="192.2" y2="524.5" stroke="#3a3a3a" stroke-width="1"/>
<text x="186.6" y="527.3" font-family="Liberation Sans" font-size="6.6" font-weight="bold" text-anchor="end" fill="#111" stroke="#111" stroke-width="0.25">400</text>
<line x1="190" y1="501.5" x2="192.2" y2="501.5" stroke="#3a3a3a" stroke-width="1"/>
<text x="186.6" y="504.2" font-family="Liberation Sans" font-size="6.6" font-weight="bold" text-anchor="end" fill="#111" stroke="#111" stroke-width="0.25">500</text>
<line x1="234.5" y1="617.2" x2="234.5" y2="620.2" stroke="#3a3a3a" stroke-width="1"/>
<line x1="277.5" y1="617.2" x2="277.5" y2="620.2" stroke="#3a3a3a" stroke-width="1"/>
<line x1="213.5" y1="518.75" x2="213.5" y2="510.5" stroke="#333" stroke-width="1"/>
<line x1="211.35" y1="510.5" x2="215.85" y2="510.5" stroke="#333" stroke-width="1"/>
<rect x="204.5" y="518.5" width="18" height="99" fill="#000" stroke="#000" stroke-width="1"/>
<line x1="255.5" y1="606.25" x2="255.5" y2="602" stroke="#333" stroke-width="1"/>
<line x1="253.45" y1="602.5" x2="257.95" y2="602.5" stroke="#333" stroke-width="1"/>
<rect x="247.5" y="606.5" width="17" height="11" fill="#fff" stroke="#222" stroke-width="1"/>
<text x="236.8" y="499.8" font-family="Liberation Sans" font-size="7.05" font-weight="bold" text-anchor="middle" fill="#111" stroke="#111" stroke-width="0.25">Anti-CD3 restimulation</text>
<text x="0" y="0" font-family="Liberation Sans" font-size="7.5" font-weight="bold" text-anchor="middle" fill="#111" stroke="#111" stroke-width="0.25" transform="translate(213.5 630) scale(0.92 1)">CD1a+</text>
<text x="0" y="0" font-family="Liberation Sans" font-size="7.5" font-weight="bold" text-anchor="middle" fill="#111" stroke="#111" stroke-width="0.25" transform="translate(256.5 630) scale(0.92 1)">CD1a-</text>
<text x="171.2" y="556.5" font-family="Liberation Sans" font-size="7.6" font-weight="bold" text-anchor="middle" fill="#111" stroke="#111" stroke-width="0.25" transform="rotate(-90 171.2 556.5)">IFN<tspan font-family="Liberation Serif" font-weight="normal" stroke-width="0" font-size="7.2">γ</tspan> (pg/mL)</text>
<text x="325.4" y="495.6" font-family="Liberation Sans" font-size="17.8" font-weight="bold" text-anchor="start" fill="#000" stroke="#000" stroke-width="0.25">L</text>
<line x1="352.5" y1="501" x2="352.5" y2="617.2" stroke="#3a3a3a" stroke-width="1"/>
<line x1="352.3" y1="617.5" x2="437.5" y2="617.5" stroke="#3a3a3a" stroke-width="1"/>
<line x1="350.1" y1="617.5" x2="352.3" y2="617.5" stroke="#3a3a3a" stroke-width="1"/>
<text x="346.6" y="619.7" font-family="Liberation Sans" font-size="6.6" font-weight="bold" text-anchor="end" fill="#111" stroke="#111" stroke-width="0.25">0</text>
<line x1="350.1" y1="597.5" x2="352.3" y2="597.5" stroke="#3a3a3a" stroke-width="1"/>
<text x="346.6" y="600.33" font-family="Liberation Sans" font-size="6.6" font-weight="bold" text-anchor="end" fill="#111" stroke="#111" stroke-width="0.25">100</text>
<line x1="350.1" y1="578.5" x2="352.3" y2="578.5" stroke="#3a3a3a" stroke-width="1"/>
<text x="346.6" y="580.96" font-family="Liberation Sans" font-size="6.6" font-weight="bold" text-anchor="end" fill="#111" stroke="#111" stroke-width="0.25">200</text>
<line x1="350.1" y1="559.5" x2="352.3" y2="559.5" stroke="#3a3a3a" stroke-width="1"/>
<text x="346.6" y="561.59" font-family="Liberation Sans" font-size="6.6" font-weight="bold" text-anchor="end" fill="#111" stroke="#111" stroke-width="0.25">300</text>
<line x1="350.1" y1="539.5" x2="352.3" y2="539.5" stroke="#3a3a3a" stroke-width="1"/>
<text x="346.6" y="542.22" font-family="Liberation Sans" font-size="6.6" font-weight="bold" text-anchor="end" fill="#111" stroke="#111" stroke-width="0.25">400</text>
<line x1="350.1" y1="520.5" x2="352.3" y2="520.5" stroke="#3a3a3a" stroke-width="1"/>
<text x="346.6" y="522.85" font-family="Liberation Sans" font-size="6.6" font-weight="bold" text-anchor="end" fill="#111" stroke="#111" stroke-width="0.25">500</text>
<line x1="350.1" y1="500.5" x2="352.3" y2="500.5" stroke="#3a3a3a" stroke-width="1"/>
<text x="346.6" y="503.48" font-family="Liberation Sans" font-size="6.6" font-weight="bold" text-anchor="end" fill="#111" stroke="#111" stroke-width="0.25">600</text>
<line x1="394.5" y1="617.2" x2="394.5" y2="620.2" stroke="#3a3a3a" stroke-width="1"/>
<line x1="437.5" y1="617.2" x2="437.5" y2="620.2" stroke="#3a3a3a" stroke-width="1"/>
<line x1="373.5" y1="587.5" x2="373.5" y2="584.5" stroke="#333" stroke-width="1"/>
<line x1="371.45" y1="584.5" x2="375.95" y2="584.5" stroke="#333" stroke-width="1"/>
<rect x="365.5" y="587.5" width="17" height="30" fill="#000" stroke="#000" stroke-width="1"/>
<line x1="416.5" y1="523" x2="416.5" y2="521.75" stroke="#333" stroke-width="1"/>
<line x1="413.75" y1="521.5" x2="418.25" y2="521.5" stroke="#333" stroke-width="1"/>
<rect x="407.5" y="523.5" width="17" height="94" fill="#fff" stroke="#222" stroke-width="1"/>
<text x="392.9" y="500" font-family="Liberation Sans" font-size="7" font-weight="bold" text-anchor="middle" fill="#111" stroke="#111" stroke-width="0.25">DC+CD40L+T</text>
<text x="0" y="0" font-family="Liberation Sans" font-size="7.5" font-weight="bold" text-anchor="middle" fill="#111" stroke="#111" stroke-width="0.25" transform="translate(373.5 630) scale(0.92 1)">CD1a+</text>
<text x="0" y="0" font-family="Liberation Sans" font-size="7.5" font-weight="bold" text-anchor="middle" fill="#111" stroke="#111" stroke-width="0.25" transform="translate(416.5 630) scale(0.92 1)">CD1a-</text>
<text x="331.1" y="557.4" font-family="Liberation Sans" font-size="7.4" font-weight="bold" text-anchor="middle" fill="#111" stroke="#111" stroke-width="0.25" transform="rotate(-90 331.1 557.4)" textLength="43.5" lengthAdjust="spacingAndGlyphs">IL-10 (pg/mL)</text>
</svg>
</body></html>
